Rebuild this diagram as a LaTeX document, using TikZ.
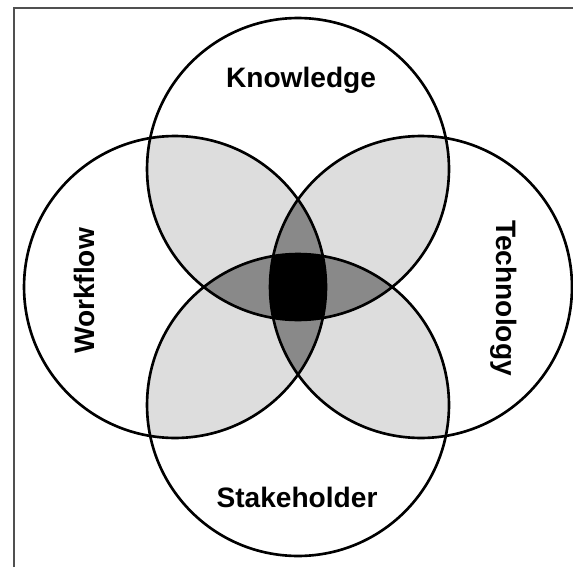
\documentclass[tikz,border=0pt]{standalone}
\usepackage{fontspec}
\setmainfont{Liberation Sans}
\usepackage{tikz}
\usetikzlibrary{shapes,positioning,calc}
\definecolor{pairgray}{RGB}{221,221,221}
\definecolor{tripgray}{RGB}{137,137,137}
\definecolor{framegray}{RGB}{80,80,80}
\tikzstyle{ring} = [draw, circle, line width=1.5pt, inner sep=0pt, minimum size=6.04cm]
\tikzstyle{lbl} = [font=\bfseries\fontsize{16}{19}\selectfont, inner sep=0pt]
\tikzstyle{pair} = [fill=pairgray]
\tikzstyle{trip} = [fill=tripgray]
\newcommand{\knowc}{(298,169) circle [radius=3.02cm]}
\newcommand{\stakec}{(298,405) circle [radius=3.02cm]}
\newcommand{\workc}{(175,287) circle [radius=3.02cm]}
\newcommand{\techc}{(421,287) circle [radius=3.02cm]}

\begin{document}
\begin{tikzpicture}[x=0.02cm,y=-0.02cm]
    \useasboundingbox (0,0) rectangle (573,567);
    \coordinate (fa) at (14,567);
    \coordinate (fb) at (14,8);
    \coordinate (fc) at (573,8);
    \draw [framegray, line width=0.8pt] (fa) -- (fb) -- (fc);
    % two circles
    \begin{scope}
      \clip \knowc;
      \fill [pair] \workc;
      \fill [pair] \techc;
    \end{scope}
    \begin{scope}
      \clip \stakec;
      \fill [pair] \workc;
      \fill [pair] \techc;
    \end{scope}
    % three circles
    \begin{scope}
      \clip \knowc;
      \clip \stakec;
      \fill [trip] \workc;
      \fill [trip] \techc;
    \end{scope}
    \begin{scope}
      \clip \workc;
      \clip \techc;
      \fill [trip] \knowc;
      \fill [trip] \stakec;
    \end{scope}
    % all four
    \begin{scope}
      \clip \knowc;
      \clip \stakec;
      \clip \workc;
      \fill [black] \techc;
    \end{scope}
    \node [ring] (know) at (298,169) {};
    \node [ring] (stake) at (298,405) {};
    \node [ring] (work) at (175,287) {};
    \node [ring] (tech) at (421,287) {};
    \node [lbl] (knowlbl) at (301,80) {Knowledge};
    \node [lbl] (stakelbl) at (297,497) {Stakeholder};
    \node [lbl, rotate=90] (worklbl) at (84,291) {Workflow};
    \node [lbl, rotate=-90] (techlbl) at (504,298) {Technology};
  \end{tikzpicture}
\end{document}
